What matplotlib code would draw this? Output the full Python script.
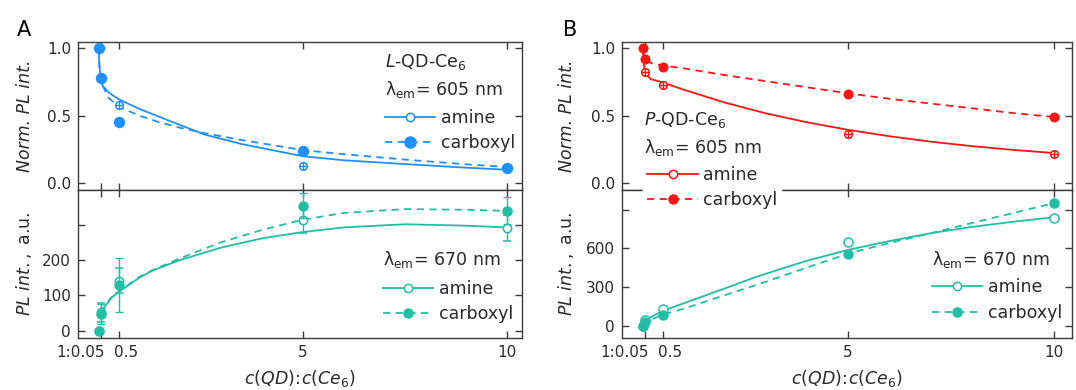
import matplotlib
matplotlib.use('Agg')
import matplotlib.pyplot as plt
from matplotlib.lines import Line2D
from matplotlib.transforms import ScaledTranslation

# ---------------- data ----------------
x_ratio = [0, 0.05, 0.5, 5, 10]
xtick_pos = [0.05, 0.5, 5, 10]
xtick_labels = ['1:0.05', '0.5', '5', '10']

# Panel A (L-QD-Ce6), 605 nm normalized
A_top_amine = [1.0, 0.78, 0.58, 0.126, 0.11]
A_top_carboxyl = [1.0, 0.78, 0.45, 0.24, 0.113]
A_top_fit_x = [0, 0.02, 0.05, 0.1, 0.25, 0.5, 1, 1.5, 2, 2.6, 3.5, 5, 6, 7.5, 9, 10]
A_top_amine_fit = [1.0, 0.86, 0.77, 0.72, 0.67, 0.62, 0.55, 0.49, 0.43, 0.36, 0.29, 0.20, 0.17, 0.142, 0.115, 0.10]
A_top_carboxyl_fit = [1.0, 0.87, 0.78, 0.72, 0.63, 0.565, 0.50, 0.45, 0.41, 0.37, 0.32, 0.245, 0.215, 0.175, 0.14, 0.12]

# Panel A, 670 nm PL
A_bot_amine = [0, 52, 141, 312, 290]
A_bot_amine_err = [0, 27, 36, 36, 36]
A_bot_carboxyl = [0, 48, 129, 354, 339]
A_bot_carboxyl_err = [0, 28, 77, 35, 38]
A_bot_fit_x = [0.05, 0.1, 0.2, 0.3, 0.5, 1, 1.32, 2, 3, 4, 5, 6, 7.5, 9, 10]
A_bot_amine_fit = [52, 60, 75, 92, 110, 150, 170, 200, 235, 261, 279, 292, 301, 297, 292]
A_bot_carboxyl_fit = [52, 60, 75, 92, 112, 152, 171, 205, 250, 285, 314, 333, 344, 342, 339]

# Panel B (P-QD-Ce6), 605 nm normalized
B_top_amine = [1.0, 0.82, 0.726, 0.368, 0.22]
B_top_carboxyl = [1.0, 0.916, 0.862, 0.66, 0.487]
B_top_fit_x = [0, 0.05, 0.2, 0.5, 1, 2, 3, 4, 5, 6, 7, 8, 9, 10]
B_top_amine_fit = [1.0, 0.82, 0.77, 0.745, 0.692, 0.597, 0.517, 0.451, 0.395, 0.348, 0.308, 0.275, 0.247, 0.224]
B_top_carboxyl_fit = [1.0, 0.93, 0.89, 0.87, 0.85, 0.80, 0.755, 0.71, 0.665, 0.625, 0.59, 0.555, 0.52, 0.49]

# Panel B, 670 nm PL
B_bot_amine = [0, 44, 127, 646, 837]
B_bot_carboxyl = [0, 31, 83, 556, 949]
B_bot_fit_x = [0, 0.05, 0.5, 1, 2, 2.77, 3.5, 4, 5, 6, 7, 8, 9, 10]
B_bot_amine_fit = [0, 40, 115, 172, 288, 378, 453, 503, 587, 655, 716, 765, 805, 840]
B_bot_carboxyl_fit = [0, 25, 85, 130, 235, 315, 395, 450, 558, 640, 715, 795, 872, 949]

# ---------------- style ----------------
BLUE = '#1e90ff'
RED = '#ff1414'
TEAL = '#20bfa5'
SPINE = '#3c3c3c'
TXT = '#2a2a2a'
FS_TICK = 11
FS = 12.5

plt.rcParams['font.family'] = ['DejaVu Sans']
plt.rcParams['mathtext.fontset'] = 'dejavusans'

W, H = 1076, 390
fig = plt.figure(figsize=(W / 100, H / 100), dpi=100)


def px(x, y):
    return x / W, 1 - y / H


def make_axes(left, right, top, mid, bot):
    l = left / W
    w = (right - left) / W
    ax_t = fig.add_axes([l, 1 - mid / H, w, (mid - top) / H])
    ax_b = fig.add_axes([l, 1 - bot / H, w, (bot - mid) / H])
    for ax in (ax_t, ax_b):
        for s in ax.spines.values():
            s.set_color(SPINE)
            s.set_linewidth(1.0)
        ax.tick_params(direction='in', length=5, width=1, color=SPINE,
                       labelsize=FS_TICK, labelcolor=TXT, top=True, right=True, pad=5)
        ax.set_xticks(xtick_pos)
    ax_t.set_xticklabels([])
    ax_b.set_xticklabels(xtick_labels)
    # label offsets as in the reference (px)
    for lab, dx in zip(ax_b.get_xticklabels(), [-20, 7, 0, 0]):
        lab.set_transform(lab.get_transform() + ScaledTranslation(dx / 100, 0, fig.dpi_scale_trans))
    ax_t.set_ylim(-0.05, 1.045)
    ax_t.set_yticks([0, 0.5, 1.0])
    ax_t.set_yticklabels(['0.0', '0.5', '1.0'])
    return ax_t, ax_b


def top_panel(ax, color, amine, carb, fx, famine, fcarb, ms_fill):
    ax.plot(fx, famine, '-', color=color, lw=1.3, zorder=2)
    ax.plot(fx, fcarb, '--', color=color, lw=1.3, dashes=(4, 3), zorder=2)
    ax.plot(x_ratio, amine, 'o', mfc='white', mec=color, mew=1.1, ms=5.5, ls='none', zorder=3)
    ax.plot(x_ratio, amine, '+', color=color, mew=1.0, ms=5.5, ls='none', zorder=3)
    ax.plot(x_ratio, carb, 'o', color=color, ms=ms_fill, ls='none', zorder=4)


def legend_handles(color, ms_open, ms_fill):
    h1 = Line2D([], [], color=color, ls='-', lw=1.3, marker='o', mfc='white',
                mec=color, mew=1.1, ms=ms_open)
    h2 = Line2D([], [], color=color, ls='--', dashes=(4, 3), lw=1.3, marker='o',
                mfc=color, mec=color, ms=ms_fill)
    return [h1, h2]


def add_legend(handles, x, y, white=False, spacing=0.4):
    leg = fig.legend(handles, ['amine', 'carboxyl'], loc='upper left',
                     bbox_to_anchor=px(x, y), bbox_transform=fig.transFigure,
                     fontsize=FS, frameon=white, numpoints=1, handlelength=2.9,
                     handletextpad=0.3, labelspacing=spacing,
                     borderpad=0.0 if not white else 0.25, borderaxespad=0)
    if white:
        fr = leg.get_frame()
        fr.set_facecolor('white')
        fr.set_edgecolor('white')
        fr.set_alpha(1.0)
        fr.set_boxstyle('square', pad=0)
    for t in leg.get_texts():
        t.set_color(TXT)
    return leg


def xlabel(ax):
    ax.set_xlabel(r'$c(QD)\!:\!c(Ce_6)$', fontsize=FS, color=TXT, labelpad=6)


def ylabels(ax_t, ax_b, xc):
    ax_t.set_ylabel('Norm. PL int.', fontsize=FS, color=TXT, style='italic')
    ax_b.set_ylabel(r'$PL\ int.,$ a.u.', fontsize=FS, color=TXT)
    ax_t.yaxis.set_label_coords(xc, 0.5)
    ax_b.yaxis.set_label_coords(xc, 0.5)


# ---------------- Panel A ----------------
aT, aB = make_axes(78, 522, 42, 190, 338)
for ax in (aT, aB):
    ax.set_xlim(-0.505, 10.37)
top_panel(aT, BLUE, A_top_amine, A_top_carboxyl, A_top_fit_x,
          A_top_amine_fit, A_top_carboxyl_fit, 7.2)

aB.plot(A_bot_fit_x, A_bot_amine_fit, '-', color=TEAL, lw=1.3)
aB.plot(A_bot_fit_x, A_bot_carboxyl_fit, '--', color=TEAL, lw=1.3, dashes=(4, 3))
aB.errorbar(x_ratio, A_bot_amine, yerr=A_bot_amine_err, fmt='o', mfc='white',
            mec=TEAL, mew=1.1, ms=6, ecolor=TEAL, elinewidth=1, capsize=3, capthick=1, zorder=3)
aB.errorbar(x_ratio, A_bot_carboxyl, yerr=A_bot_carboxyl_err, fmt='o', color=TEAL,
            ms=6.5, ecolor=TEAL, elinewidth=1, capsize=3, capthick=1, zorder=4)
aB.set_ylim(-21, 398)
aB.set_yticks([0, 100, 200, 300])
aB.set_yticklabels(['0', '100', '200', ''])

ylabels(aT, aB, -0.098)
xlabel(aB)

fig.text(*px(385, 62), r'$L$-QD-Ce$_6$', fontsize=FS, color=TXT, va='center')
fig.text(*px(385, 89), r'λ$_{\rm em}$= 605 nm', fontsize=FS, color=TXT, va='center')
add_legend(legend_handles(BLUE, 6, 8), 385, 109)
fig.text(*px(383, 260), r'λ$_{\rm em}$= 670 nm', fontsize=FS, color=TXT, va='center')
add_legend(legend_handles(TEAL, 6, 6.5), 383, 280)

# ---------------- Panel B ----------------
bT, bB = make_axes(622, 1072, 42, 190, 338)
for ax in (bT, bB):
    ax.set_xlim(-0.5, 10.45)
top_panel(bT, RED, B_top_amine, B_top_carboxyl, B_top_fit_x,
          B_top_amine_fit, B_top_carboxyl_fit, 6.2)

bB.plot(B_bot_fit_x, B_bot_amine_fit, '-', color=TEAL, lw=1.3)
bB.plot(B_bot_fit_x, B_bot_carboxyl_fit, '--', color=TEAL, lw=1.3, dashes=(4, 3))
bB.plot(x_ratio, B_bot_amine, 'o', mfc='white', mec=TEAL, mew=1.1, ms=6.5, ls='none', zorder=3)
bB.plot(x_ratio, B_bot_carboxyl, 'o', color=TEAL, ms=6.5, ls='none', zorder=4)
bB.set_ylim(-97, 1052)
bB.set_yticks([0, 300, 600, 900])
bB.set_yticklabels(['0', '300', '600', ''])

ylabels(bT, bB, -0.103)
xlabel(bB)

fig.text(*px(644, 120), r'$P$-QD-Ce$_6$', fontsize=FS, color=TXT, va='center')
fig.text(*px(644, 147), r'λ$_{\rm em}$= 605 nm', fontsize=FS, color=TXT, va='center')
add_legend(legend_handles(RED, 6, 6.5), 643, 162, white=True)
fig.text(*px(932, 260), r'λ$_{\rm em}$= 670 nm', fontsize=FS, color=TXT, va='center')
add_legend(legend_handles(TEAL, 6, 6.5), 932, 278, spacing=0.48)

fig.text(*px(24, 30), 'A', fontsize=15, color='black', ha='center', va='center')
fig.text(*px(570, 30), 'B', fontsize=15, color='black', ha='center', va='center')

fig.savefig('out.png', dpi=100)
